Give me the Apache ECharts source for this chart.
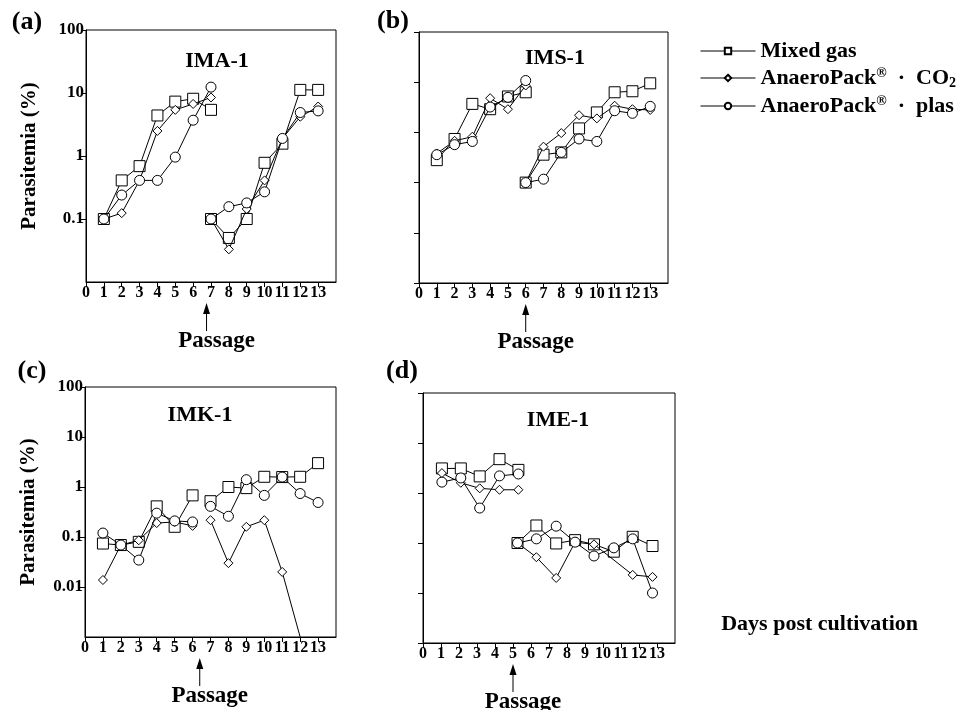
<!DOCTYPE html>
<html>
<head>
<meta charset="utf-8">
<script src="https://cdn.jsdelivr.net/npm/echarts@6/dist/echarts.min.js"></script>
<style>
  html, body { margin: 0; padding: 0; background: #fff; }
  #chart { width: 965px; height: 710px; }
</style>
</head>
<body>
<div id="chart"></div>
<script>
// ---- data (parasitemia %) ----
// (a) IMA-1
const daysA1 = [1, 2, 3, 4, 5, 6, 7];
const daysA2 = [7, 8, 9, 10, 11, 12, 13];
const imaMixed1 = [0.1, 0.41, 0.69, 4.4, 7.3, 8.1, 5.4];
const imaMixed2 = [0.1, 0.05, 0.1, 0.78, 1.57, 11.2, 11.2];
const imaCO2_1 = [0.1, 0.124, 0.41, 2.5, 5.4, 6.7, 8.5];
const imaCO2_2 = [0.1, 0.033, 0.144, 0.41, 1.9, 4.2, 6.1];
const imaPlas1 = [0.1, 0.24, 0.41, 0.41, 0.96, 3.7, 12.4];
const imaPlas2 = [0.1, 0.157, 0.18, 0.27, 1.9, 4.9, 5.2];

// (b) IMS-1
const daysB1 = [1, 2, 3, 4, 5, 6];
const daysB2 = [6, 7, 8, 9, 10, 11, 12, 13];
const imsMixed1 = [0.28, 0.74, 3.7, 2.9, 5.2, 6.3];
const imsMixed2 = [0.1, 0.36, 0.4, 1.2, 2.5, 6.3, 6.6, 9.5];
const imsCO2_1 = [0.38, 0.68, 0.82, 4.8, 2.9, 8.6];
const imsCO2_2 = [0.1, 0.52, 0.97, 2.2, 1.9, 3.4, 2.9, 2.8];
const imsPlas1 = [0.36, 0.57, 0.66, 3.2, 5.0, 10.8];
const imsPlas2 = [0.1, 0.117, 0.4, 0.74, 0.66, 2.7, 2.4, 3.3];

// (c) IMK-1
const daysC1 = [1, 2, 3, 4, 5, 6];
const daysC2 = [7, 8, 9, 10, 11, 12, 13];
const imkMixed1 = [0.074, 0.069, 0.08, 0.41, 0.16, 0.68];
const imkMixed2 = [0.52, 1.0, 0.95, 1.6, 1.58, 1.6, 3.0];
const imkCO2_1 = [0.0138, 0.069, 0.086, 0.19, 0.2, 0.167];
const imkCO2_2 = [0.217, 0.03, 0.16, 0.217, 0.02, 0.001];
const imkPlas1 = [0.12, 0.069, 0.0345, 0.3, 0.21, 0.2];
const imkPlas2 = [0.41, 0.26, 1.4, 0.68, 1.58, 0.74, 0.49];

// (d) IME-1 (points sit a little off the day ticks in the original)
const daysD1 = [1.05, 2.1, 3.15, 4.25, 5.3];
const daysD2 = [5.25, 6.3, 7.4, 8.45, 9.5, 10.6, 11.65, 12.75];
const imeMixed1 = [3.1, 3.1, 2.15, 4.75, 2.9];
const imeMixed2 = [0.1, 0.224, 0.098, 0.114, 0.094, 0.067, 0.133, 0.087];
const imeCO2_1 = [2.5, 1.6, 1.24, 1.16, 1.16];
const imeCO2_2 = [0.1, 0.052, 0.02, 0.104, 0.094, null, 0.023, 0.021];
const imePlas1 = [1.65, 2.0, 0.5, 2.2, 2.4];
const imePlas2 = [0.1, 0.121, 0.217, 0.104, 0.055, 0.08, 0.121, 0.01];

const dayTicks = [0, 1, 2, 3, 4, 5, 6, 7, 8, 9, 10, 11, 12, 13];
const passageDay = [6.75, 6, 6.4, 5];
const seriesNames = ['Mixed gas', 'AnaeroPack® · CO2', 'AnaeroPack® · plas'];

const FONT = 'Liberation Serif';

const panels = [
  { grid: { left: 86, top: 30, width: 250, height: 252 }, yMin: 0.01, yMax: 100, labels: true,
    letter: '(a)', letterPos: [27, 22], title: 'IMA-1', titlePos: [217, 61],
    segs: [[daysA1, imaMixed1, imaCO2_1, imaPlas1], [daysA2, imaMixed2, imaCO2_2, imaPlas2]] },
  { grid: { left: 419, top: 32, width: 249, height: 251 }, yMin: 0.001, yMax: 100, labels: false,
    letter: '(b)', letterPos: [393, 21], title: 'IMS-1', titlePos: [555, 58],
    segs: [[daysB1, imsMixed1, imsCO2_1, imsPlas1], [daysB2, imsMixed2, imsCO2_2, imsPlas2]] },
  { grid: { left: 85, top: 387, width: 251, height: 250 }, yMin: 0.001, yMax: 100, labels: true,
    letter: '(c)', letterPos: [32, 371], title: 'IMK-1', titlePos: [200, 415],
    segs: [[daysC1, imkMixed1, imkCO2_1, imkPlas1], [daysC2, imkMixed2, imkCO2_2, imkPlas2]] },
  { grid: { left: 423, top: 393, width: 252, height: 250 }, yMin: 0.001, yMax: 100, labels: false,
    letter: '(d)', letterPos: [402, 371], title: 'IME-1', titlePos: [558, 420],
    segs: [[daysD1, imeMixed1, imeCO2_1, imePlas1], [daysD2, imeMixed2, imeCO2_2, imePlas2]] }
];

const marks = [
  { symbol: 'rect', symbolSize: 11 },
  { symbol: 'diamond', symbolSize: 9 },
  { symbol: 'circle', symbolSize: 10 }
];

function pairs(days, vals, yMin) {
  const out = [];
  days.forEach((d, i) => {
    const v = vals[i];
    if (v === undefined || v === null) return;
    if (v <= yMin) out.push({ value: [d, v], symbol: 'none' });
    else out.push([d, v]);
  });
  return out;
}

const grids = [], xAxes = [], yAxes = [], series = [], graphics = [];

panels.forEach((p, i) => {
  grids.push(Object.assign({ show: true, borderColor: '#000', borderWidth: 1 }, p.grid));
  xAxes.push({
    type: 'value', gridIndex: i, min: 0, max: 14, interval: 1,
    splitLine: { show: false },
    axisLine: { lineStyle: { color: '#000', width: 1 } },
    axisTick: { length: 5, lineStyle: { color: '#000' } },
    axisLabel: {
      color: '#000', fontFamily: FONT, fontWeight: 'bold', fontSize: 16, margin: 3,
      showMaxLabel: false,
      formatter: v => (dayTicks.indexOf(v) >= 0 ? String(v) : '')
    }
  });
  yAxes.push({
    type: 'log', logBase: 10, gridIndex: i, min: p.yMin, max: p.yMax,
    splitLine: { show: false },
    axisLine: { lineStyle: { color: '#000', width: 1 } },
    axisTick: { length: 5, lineStyle: { color: '#000' } },
    axisLabel: {
      show: p.labels, showMinLabel: false,
      color: '#000', fontFamily: FONT, fontWeight: 'bold', fontSize: 17, margin: 2,
      formatter: v => String(+v.toPrecision(3))
    },
    name: p.labels ? 'Parasitemia (%)' : '',
    nameLocation: 'middle', nameGap: 46,
    nameTextStyle: { color: '#000', fontFamily: FONT, fontWeight: 'bold', fontSize: 21 }
  });
  p.segs.forEach(seg => {
    const days = seg[0];
    for (let k = 0; k < 3; k++) {
      series.push({
        type: 'line', name: seriesNames[k], xAxisIndex: i, yAxisIndex: i,
        data: pairs(days, seg[k + 1], p.yMin),
        symbol: marks[k].symbol, symbolSize: marks[k].symbolSize,
        showSymbol: true,
        lineStyle: { color: '#000', width: 1 },
        itemStyle: { color: '#fff', borderColor: '#000', borderWidth: 1 },
        emphasis: { disabled: true },
        z: 3 + k
      });
    }
  });
  graphics.push({
    type: 'text', x: p.letterPos[0], y: p.letterPos[1],
    style: { text: p.letter, fill: '#000', font: 'bold 26px "' + FONT + '"', textAlign: 'center', textVerticalAlign: 'middle' }
  });
  graphics.push({
    type: 'text', x: p.titlePos[0], y: p.titlePos[1], z: 10,
    style: { text: p.title, fill: '#000', font: 'bold 22px "' + FONT + '"', textAlign: 'center', textVerticalAlign: 'middle' }
  });
});

graphics.push({
  type: 'text', x: 918, y: 624,
  style: { text: 'Days post cultivation', fill: '#000', font: 'bold 22px "' + FONT + '"', textAlign: 'right', textVerticalAlign: 'middle' }
});

const legendRich = {
  t: { fontFamily: FONT, fontWeight: 'bold', fontSize: 22, color: '#000' },
  sup: { fontFamily: FONT, fontWeight: 'bold', fontSize: 14, color: '#000', verticalAlign: 'top', padding: [0, 0, 10, 0] },
  sub: { fontFamily: FONT, fontWeight: 'bold', fontSize: 14, color: '#000', verticalAlign: 'bottom', padding: [6, 0, 0, 0] }
};

const option = {
  backgroundColor: '#fff',
  animation: false,
  grid: grids,
  xAxis: xAxes,
  yAxis: yAxes,
  series: series,
  legend: {
    data: seriesNames,
    orient: 'vertical', left: 700, top: 40, padding: 0,
    itemWidth: 55, itemHeight: 8, itemGap: 4,
    selectedMode: false,
    lineStyle: { width: 1 },
    textStyle: { rich: legendRich },
    formatter: name => {
      if (name === seriesNames[0]) return '{t|Mixed gas}';
      if (name === seriesNames[1]) return '{t|AnaeroPack}{sup|®}{t|  ·  CO}{sub|2}';
      return '{t|AnaeroPack}{sup|®}{t|  ·  plas}';
    }
  },
  graphic: graphics
};

const chart = echarts.init(document.getElementById('chart'));
chart.setOption(option);

// passage arrows under the x axes
const arrows = [];
panels.forEach((p, i) => {
  const x = chart.convertToPixel({ xAxisIndex: i }, passageDay[i]);
  const axisY = p.grid.top + p.grid.height;
  const tip = axisY + 21;
  arrows.push({
    type: 'polygon',
    shape: { points: [[x, tip], [x - 3.5, tip + 11], [x + 3.5, tip + 11]] },
    style: { fill: '#000' }
  });
  arrows.push({
    type: 'line',
    shape: { x1: x, y1: tip + 8, x2: x, y2: tip + 28 },
    style: { stroke: '#000', lineWidth: 1 }
  });
  arrows.push({
    type: 'text', x: x + 10, y: axisY + 59,
    style: { text: 'Passage', fill: '#000', font: 'bold 23px "' + FONT + '"', textAlign: 'center', textVerticalAlign: 'middle' }
  });
});
chart.setOption({ graphic: graphics.concat(arrows) });
</script>
</body>
</html>
